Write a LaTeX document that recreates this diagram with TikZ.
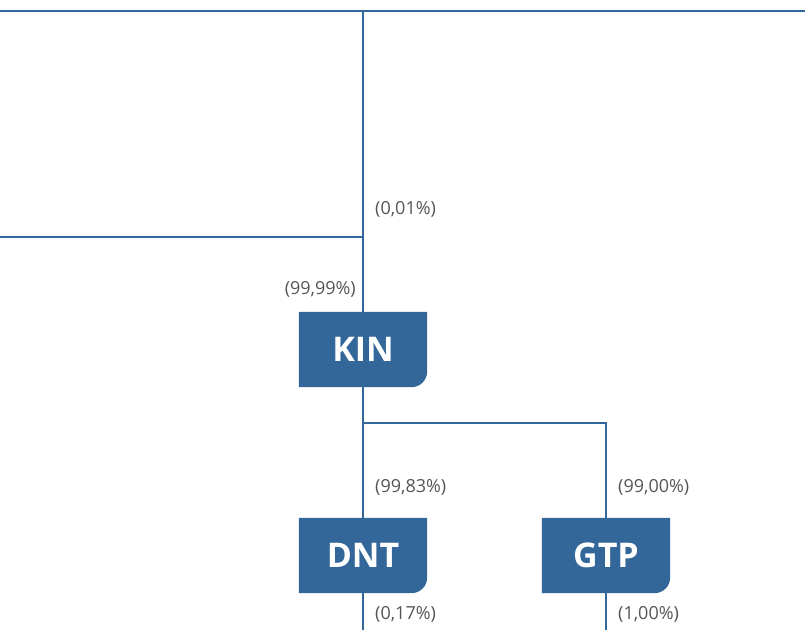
\documentclass[tikz,border=0pt]{standalone}
\usepackage{fontspec}
\setmainfont{Open Sans}
\usepackage{tikz}
\usetikzlibrary{positioning,backgrounds}
\definecolor{boxblue}{RGB}{51,102,153}
\definecolor{sharegrey}{RGB}{85,85,85}
\begin{document}
\begin{tikzpicture}[x=1pt,y=-1pt,
box/.style={minimum width=128pt,minimum height=75pt,inner sep=0pt,text=white,
  font=\bfseries\fontsize{34}{34}\selectfont},
share/.style={inner sep=0pt,text=sharegrey,font=\fontsize{18}{18}\selectfont},
link/.style={draw=boxblue,line width=2pt}]
\useasboundingbox (0,0) rectangle (805,630);
% companies
\node (kin) [box] at (363,349.5) {KIN};
\node (dnt) [box] at (363,555.5) {DNT};
\node (gtp) [box] at (606,555.5) {GTP};
\begin{scope}[on background layer]
\foreach \co in {kin,dnt,gtp}
  \fill[boxblue] (\co.north west) -- (\co.north east)
    -- ([yshift=16pt]\co.south east)
    .. controls ([yshift=7pt]\co.south east) and ([xshift=-7pt]\co.south east)
    .. ([xshift=-16pt]\co.south east)
    -- (\co.south west) -- cycle;
\end{scope}
% line ends
\coordinate (topl) at (0,11);
\coordinate (topr) at (805,11);
\coordinate (topj) at (363,11);
\coordinate (midl) at (0,237);
\coordinate (midj) at (363,237);
\coordinate (split) at (363,423);
\coordinate (splitr) at (606,423);
\coordinate (dntend) at (363,630);
\coordinate (gtpend) at (606,630);
% connectors
\draw [link] (topl) -- (topr);
\draw [link] (topj) -- (kin.north);
\draw [link] (midl) -- (midj);
\draw [link] (kin.south) -- (dnt.north);
\draw [link] (split) -- (splitr) -- (gtp.north);
\draw [link] (dnt.south) -- (dntend);
\draw [link] (gtp.south) -- (gtpend);
% shares
\node (s1) [share,anchor=west] at (375,209) {(0,01\%)};
\node (s2) [share,anchor=east] at (356,289) {(99,99\%)};
\node (s3) [share,anchor=west] at (375,487) {(99,83\%)};
\node (s4) [share,anchor=west] at (618,487) {(99,00\%)};
\node (s5) [share,anchor=west] at (375,614) {(0,17\%)};
\node (s6) [share,anchor=west] at (618,614) {(1,00\%)};
\end{tikzpicture}
\end{document}
